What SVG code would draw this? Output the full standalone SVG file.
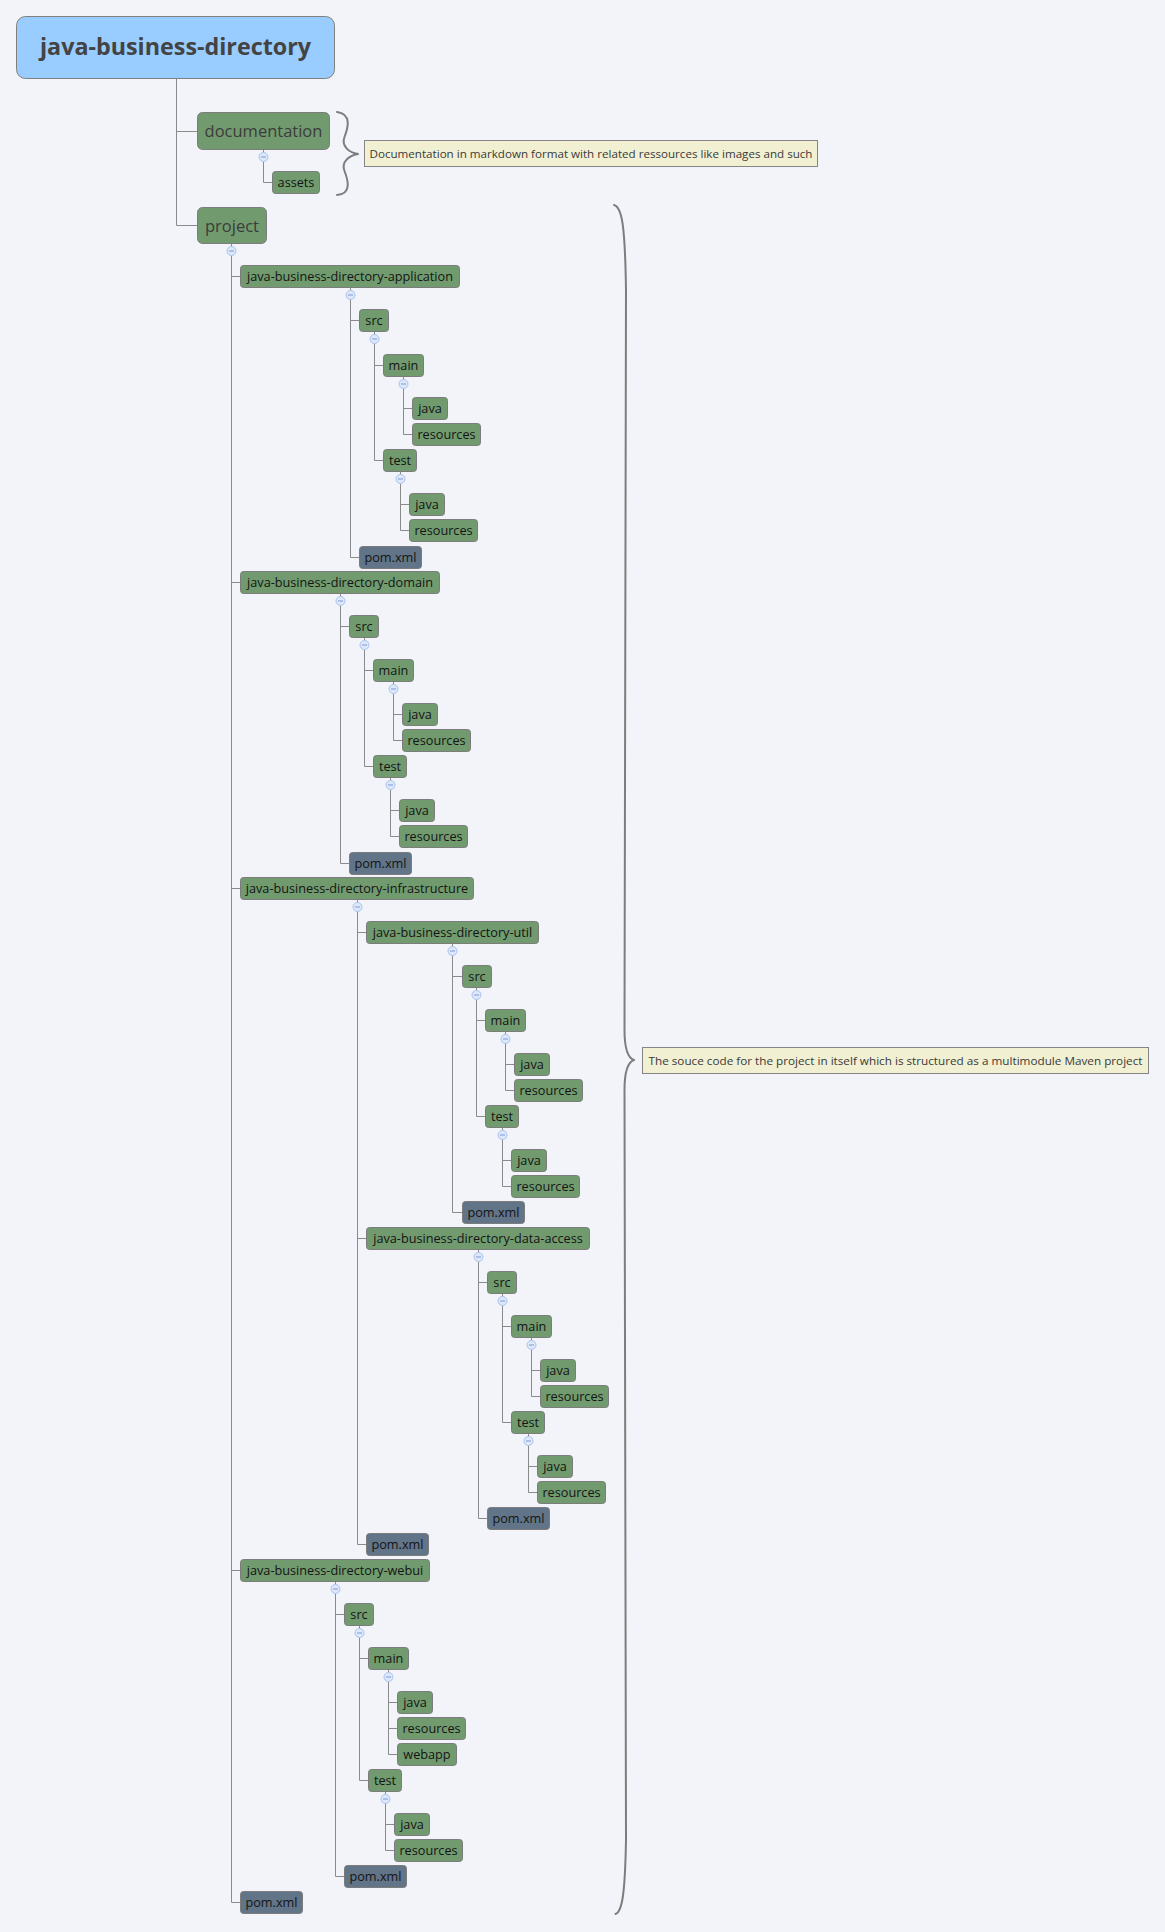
<svg xmlns="http://www.w3.org/2000/svg" width="1165" height="1932" viewBox="0 0 1165 1932">
<style>
  .bg{fill:#f2f4f9}
  .lines{fill:none;stroke:#8a8a8a;stroke-width:1}
  .brace{fill:none;stroke:#7d7d7d;stroke-width:2;stroke-linecap:round;stroke-linejoin:round}
  .n rect{fill:#719b6f;stroke:#7c7c7c;stroke-width:1}
  .f rect{fill:#627488;stroke:#7c7c7c;stroke-width:1}
  .n text,.f text{font-family:"Open Sans","Noto Sans",sans-serif;font-size:12.7px;fill:#141414;text-anchor:middle}
  .big rect{fill:#719b6f;stroke:#7c7c7c;stroke-width:1}
  .big text{font-family:"Open Sans","Noto Sans",sans-serif;font-size:16.5px;fill:#3c3c3c;text-anchor:middle}
  .root rect{fill:#99ccff;stroke:#808080;stroke-width:1}
  .root text{font-family:"Open Sans","Noto Sans",sans-serif;font-size:23.3px;font-weight:bold;fill:#434343;text-anchor:middle}
  .note rect{fill:#f1f0d2;stroke:#858585;stroke-width:1}
  .note text{font-family:"Open Sans","Noto Sans",sans-serif;font-size:11.6px;fill:#3a3a3a;text-anchor:middle}
  .tog circle{fill:#dde8fb;stroke:#a9c3ee;stroke-width:1}
  .tog path{stroke:#7d9ad0;stroke-width:1}
</style>
<defs>
  <g id="toggle" class="tog"><circle cx="0" cy="0" r="4.5"/><path d="M-2.5,0H2.5"/></g>
</defs>
<rect class="bg" x="0" y="0" width="1165" height="1932"/>

<!-- tree connectors -->
<g id="connectors" class="lines">
  <!-- root -->
  <path d="M176.5,78.5V225.5M176.5,131.5H197.5M176.5,225.5H197.5"/>
  <!-- documentation -->
  <path d="M263.5,149.5V152.5M263.5,161.5V182.5H272.5"/>
  <!-- project -->
  <path d="M231.5,243.5V246.5M231.5,255.5V1902.5M231.5,276.5H240.5M231.5,582.5H240.5M231.5,888.5H240.5M231.5,1570.5H240.5M231.5,1902.5H240.5"/>
  <!-- application -->
  <path d="M350.5,299.5V557.5M350.5,320.5H359.5M350.5,557.5H359.5"/>
  <path d="M374.5,343.5V460.5M374.5,365.5H383.5M374.5,460.5H383.5"/>
  <path d="M403.5,388.5V434.5M403.5,408.5H412.5M403.5,434.5H412.5"/>
  <path d="M400.5,483.5V530.5M400.5,504.5H409.5M400.5,530.5H409.5"/>
  <!-- domain -->
  <path d="M340.5,605.5V863.5M340.5,626.5H349.5M340.5,863.5H349.5"/>
  <path d="M364.5,649.5V766.5M364.5,670.5H373.5M364.5,766.5H373.5"/>
  <path d="M393.5,693.5V740.5M393.5,714.5H402.5M393.5,740.5H402.5"/>
  <path d="M390.5,789.5V836.5M390.5,810.5H399.5M390.5,836.5H399.5"/>
  <!-- infrastructure -->
  <path d="M357.5,911.5V1544.5M357.5,932.5H366.5M357.5,1238.5H366.5M357.5,1544.5H366.5"/>
  <!-- util -->
  <path d="M452.5,955.5V1212.5M452.5,976.5H462.5M452.5,1212.5H462.5"/>
  <path d="M476.5,999.5V1116.5M476.5,1020.5H485.5M476.5,1116.5H485.5"/>
  <path d="M505.5,1043.5V1090.5M505.5,1064.5H514.5M505.5,1090.5H514.5"/>
  <path d="M502.5,1139.5V1186.5M502.5,1160.5H511.5M502.5,1186.5H511.5"/>
  <!-- data-access -->
  <path d="M478.5,1261.5V1518.5M478.5,1282.5H487.5M478.5,1518.5H487.5"/>
  <path d="M502.5,1305.5V1422.5M502.5,1326.5H511.5M502.5,1422.5H511.5"/>
  <path d="M531.5,1349.5V1396.5M531.5,1370.5H540.5M531.5,1396.5H540.5"/>
  <path d="M528.5,1445.5V1492.5M528.5,1466.5H537.5M528.5,1492.5H537.5"/>
  <!-- webui -->
  <path d="M335.5,1593.5V1876.5M335.5,1614.5H344.5M335.5,1876.5H344.5"/>
  <path d="M359.5,1637.5V1780.5M359.5,1658.5H368.5M359.5,1780.5H368.5"/>
  <path d="M388.5,1681.5V1754.5M388.5,1702.5H397.5M388.5,1728.5H397.5M388.5,1754.5H397.5"/>
  <path d="M385.5,1803.5V1850.5M385.5,1824.5H394.5M385.5,1850.5H394.5"/>
  <!-- short stubs from nodes to toggles -->
  <path d="M350.5,287.5V290.5M374.5,331.5V334.5M403.5,376.5V379.5M400.5,471.5V474.5M340.5,593.5V596.5M364.5,637.5V640.5M393.5,681.5V684.5M390.5,777.5V780.5M357.5,899.5V902.5M452.5,943.5V946.5M476.5,987.5V990.5M505.5,1031.5V1034.5M502.5,1127.5V1130.5M478.5,1249.5V1252.5M502.5,1293.5V1296.5M531.5,1337.5V1340.5M528.5,1433.5V1436.5M335.5,1581.5V1584.5M359.5,1625.5V1628.5M388.5,1669.5V1672.5M385.5,1791.5V1794.5"/>
</g>

<!-- collapse toggles -->
<g id="toggles">
  <use href="#toggle" x="263.5" y="157"/>
  <use href="#toggle" x="231.5" y="251"/>
  <use href="#toggle" x="350.5" y="295"/>
  <use href="#toggle" x="374.5" y="339"/>
  <use href="#toggle" x="403.5" y="384"/>
  <use href="#toggle" x="400.5" y="479"/>
  <use href="#toggle" x="340.5" y="601"/>
  <use href="#toggle" x="364.5" y="645"/>
  <use href="#toggle" x="393.5" y="689"/>
  <use href="#toggle" x="390.5" y="785"/>
  <use href="#toggle" x="357.5" y="907"/>
  <use href="#toggle" x="452.5" y="951"/>
  <use href="#toggle" x="476.5" y="995"/>
  <use href="#toggle" x="505.5" y="1039"/>
  <use href="#toggle" x="502.5" y="1135"/>
  <use href="#toggle" x="478.5" y="1257"/>
  <use href="#toggle" x="502.5" y="1301"/>
  <use href="#toggle" x="531.5" y="1345"/>
  <use href="#toggle" x="528.5" y="1441"/>
  <use href="#toggle" x="335.5" y="1589"/>
  <use href="#toggle" x="359.5" y="1633"/>
  <use href="#toggle" x="388.5" y="1677"/>
  <use href="#toggle" x="385.5" y="1799"/>
</g>

<!-- braces and notes -->
<g id="brace-documentation">
  <path class="brace" d="M337,112C352,114 348,128 344.5,137C341,146 349,152.5 358,154C349,155.5 341,162 344.5,171C348,180 352,194 337,195"/>
</g>
<g id="note-documentation" class="note">
  <rect x="364.5" y="140.5" width="453" height="26"/>
  <text x="591" y="157.5" textLength="443" lengthAdjust="spacingAndGlyphs">Documentation in markdown format with related ressources like images and such</text>
</g>
<g id="brace-project">
  <path class="brace" d="M614,205C622,207 625,225 626,290L624.5,1030C624.5,1050 628,1058 634,1060C628,1062 624.5,1070 624.5,1090L626,1840C625,1895 622,1912 615.5,1914"/>
</g>
<g id="note-project" class="note">
  <rect x="642.5" y="1047.5" width="506" height="26"/>
  <text x="895.5" y="1064.5" textLength="494" lengthAdjust="spacingAndGlyphs">The souce code for the project in itself which is structured as a multimodule Maven project</text>
</g>

<!-- nodes -->
<g id="root" class="root"><rect x="16.5" y="16.5" width="318" height="62" rx="9"/><text x="175.5" y="55">java-business-directory</text></g>
<g id="documentation" class="big"><rect x="197.5" y="112.5" width="132" height="37" rx="5"/><text x="263.5" y="137">documentation</text></g>
<g id="documentation-assets" class="n"><rect x="272.5" y="171.5" width="47" height="22" rx="3"/><text x="296" y="187">assets</text></g>
<g id="project" class="big"><rect x="197.5" y="207.5" width="69" height="36" rx="5"/><text x="232" y="231.5">project</text></g>

<g id="application" class="n"><rect x="240.5" y="265.5" width="219" height="22" rx="3"/><text x="350" y="281">java-business-directory-application</text></g>
<g id="application-src" class="n"><rect x="359.5" y="309.5" width="29" height="22" rx="3"/><text x="374" y="325">src</text></g>
<g id="application-src-main" class="n"><rect x="383.5" y="354.5" width="40" height="22" rx="3"/><text x="403.5" y="370">main</text></g>
<g id="application-src-main-java" class="n"><rect x="412.5" y="397.5" width="35" height="22" rx="3"/><text x="430" y="413">java</text></g>
<g id="application-src-main-resources" class="n"><rect x="412.5" y="423.5" width="68" height="22" rx="3"/><text x="446.5" y="439">resources</text></g>
<g id="application-src-test" class="n"><rect x="383.5" y="449.5" width="33" height="22" rx="3"/><text x="400" y="465">test</text></g>
<g id="application-src-test-java" class="n"><rect x="409.5" y="493.5" width="35" height="22" rx="3"/><text x="427" y="509">java</text></g>
<g id="application-src-test-resources" class="n"><rect x="409.5" y="519.5" width="68" height="22" rx="3"/><text x="443.5" y="535">resources</text></g>
<g id="application-pom" class="f"><rect x="359.5" y="546.5" width="62" height="22" rx="3"/><text x="390.5" y="562">pom.xml</text></g>

<g id="domain" class="n"><rect x="240.5" y="571.5" width="199" height="22" rx="3"/><text x="340" y="587">java-business-directory-domain</text></g>
<g id="domain-src" class="n"><rect x="349.5" y="615.5" width="29" height="22" rx="3"/><text x="364" y="631">src</text></g>
<g id="domain-src-main" class="n"><rect x="373.5" y="659.5" width="40" height="22" rx="3"/><text x="393.5" y="675">main</text></g>
<g id="domain-src-main-java" class="n"><rect x="402.5" y="703.5" width="35" height="22" rx="3"/><text x="420" y="719">java</text></g>
<g id="domain-src-main-resources" class="n"><rect x="402.5" y="729.5" width="68" height="22" rx="3"/><text x="436.5" y="745">resources</text></g>
<g id="domain-src-test" class="n"><rect x="373.5" y="755.5" width="33" height="22" rx="3"/><text x="390" y="771">test</text></g>
<g id="domain-src-test-java" class="n"><rect x="399.5" y="799.5" width="35" height="22" rx="3"/><text x="417" y="815">java</text></g>
<g id="domain-src-test-resources" class="n"><rect x="399.5" y="825.5" width="68" height="22" rx="3"/><text x="433.5" y="841">resources</text></g>
<g id="domain-pom" class="f"><rect x="349.5" y="852.5" width="62" height="22" rx="3"/><text x="380.5" y="868">pom.xml</text></g>

<g id="infrastructure" class="n"><rect x="240.5" y="877.5" width="233" height="22" rx="3"/><text x="357" y="893">java-business-directory-infrastructure</text></g>
<g id="util" class="n"><rect x="366.5" y="921.5" width="172" height="22" rx="3"/><text x="452.5" y="937">java-business-directory-util</text></g>
<g id="util-src" class="n"><rect x="462.5" y="965.5" width="29" height="22" rx="3"/><text x="477" y="981">src</text></g>
<g id="util-src-main" class="n"><rect x="485.5" y="1009.5" width="40" height="22" rx="3"/><text x="505.5" y="1025">main</text></g>
<g id="util-src-main-java" class="n"><rect x="514.5" y="1053.5" width="35" height="22" rx="3"/><text x="532" y="1069">java</text></g>
<g id="util-src-main-resources" class="n"><rect x="514.5" y="1079.5" width="68" height="22" rx="3"/><text x="548.5" y="1095">resources</text></g>
<g id="util-src-test" class="n"><rect x="485.5" y="1105.5" width="33" height="22" rx="3"/><text x="502" y="1121">test</text></g>
<g id="util-src-test-java" class="n"><rect x="511.5" y="1149.5" width="35" height="22" rx="3"/><text x="529" y="1165">java</text></g>
<g id="util-src-test-resources" class="n"><rect x="511.5" y="1175.5" width="68" height="22" rx="3"/><text x="545.5" y="1191">resources</text></g>
<g id="util-pom" class="f"><rect x="462.5" y="1201.5" width="62" height="22" rx="3"/><text x="493.5" y="1217">pom.xml</text></g>

<g id="data-access" class="n"><rect x="366.5" y="1227.5" width="223" height="22" rx="3"/><text x="478" y="1243">java-business-directory-data-access</text></g>
<g id="data-access-src" class="n"><rect x="487.5" y="1271.5" width="29" height="22" rx="3"/><text x="502" y="1287">src</text></g>
<g id="data-access-src-main" class="n"><rect x="511.5" y="1315.5" width="40" height="22" rx="3"/><text x="531.5" y="1331">main</text></g>
<g id="data-access-src-main-java" class="n"><rect x="540.5" y="1359.5" width="35" height="22" rx="3"/><text x="558" y="1375">java</text></g>
<g id="data-access-src-main-resources" class="n"><rect x="540.5" y="1385.5" width="68" height="22" rx="3"/><text x="574.5" y="1401">resources</text></g>
<g id="data-access-src-test" class="n"><rect x="511.5" y="1411.5" width="33" height="22" rx="3"/><text x="528" y="1427">test</text></g>
<g id="data-access-src-test-java" class="n"><rect x="537.5" y="1455.5" width="35" height="22" rx="3"/><text x="555" y="1471">java</text></g>
<g id="data-access-src-test-resources" class="n"><rect x="537.5" y="1481.5" width="68" height="22" rx="3"/><text x="571.5" y="1497">resources</text></g>
<g id="data-access-pom" class="f"><rect x="487.5" y="1507.5" width="62" height="22" rx="3"/><text x="518.5" y="1523">pom.xml</text></g>
<g id="infrastructure-pom" class="f"><rect x="366.5" y="1533.5" width="62" height="22" rx="3"/><text x="397.5" y="1549">pom.xml</text></g>

<g id="webui" class="n"><rect x="240.5" y="1559.5" width="189" height="22" rx="3"/><text x="335" y="1575">java-business-directory-webui</text></g>
<g id="webui-src" class="n"><rect x="344.5" y="1603.5" width="29" height="22" rx="3"/><text x="359" y="1619">src</text></g>
<g id="webui-src-main" class="n"><rect x="368.5" y="1647.5" width="40" height="22" rx="3"/><text x="388.5" y="1663">main</text></g>
<g id="webui-src-main-java" class="n"><rect x="397.5" y="1691.5" width="35" height="22" rx="3"/><text x="415" y="1707">java</text></g>
<g id="webui-src-main-resources" class="n"><rect x="397.5" y="1717.5" width="68" height="22" rx="3"/><text x="431.5" y="1733">resources</text></g>
<g id="webui-src-main-webapp" class="n"><rect x="397.5" y="1743.5" width="59" height="22" rx="3"/><text x="427" y="1759">webapp</text></g>
<g id="webui-src-test" class="n"><rect x="368.5" y="1769.5" width="33" height="22" rx="3"/><text x="385" y="1785">test</text></g>
<g id="webui-src-test-java" class="n"><rect x="394.5" y="1813.5" width="35" height="22" rx="3"/><text x="412" y="1829">java</text></g>
<g id="webui-src-test-resources" class="n"><rect x="394.5" y="1839.5" width="68" height="22" rx="3"/><text x="428.5" y="1855">resources</text></g>
<g id="webui-pom" class="f"><rect x="344.5" y="1865.5" width="62" height="22" rx="3"/><text x="375.5" y="1881">pom.xml</text></g>

<g id="project-pom" class="f"><rect x="240.5" y="1891.5" width="62" height="22" rx="3"/><text x="271.5" y="1907">pom.xml</text></g>
</svg>
